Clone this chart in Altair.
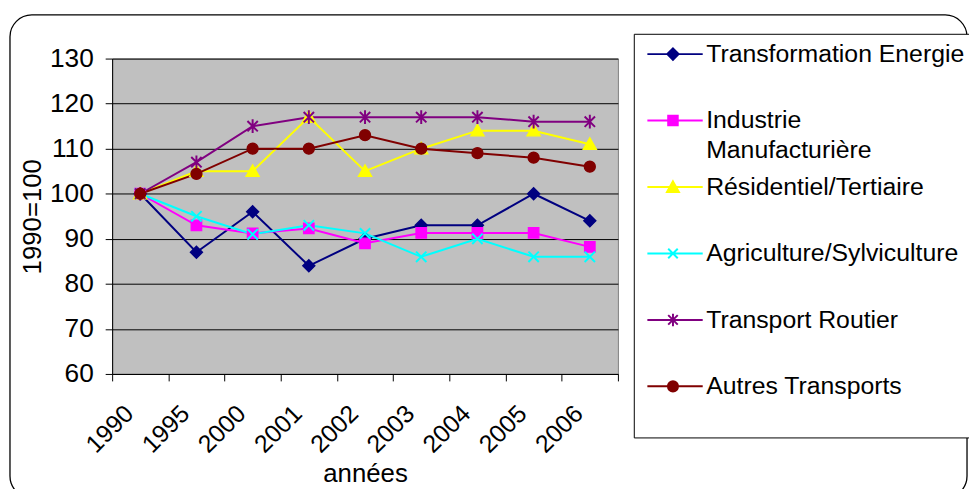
import altair as alt
import pandas as pd

years = ["1990", "1995", "2000", "2001", "2002", "2003", "2004", "2005", "2006"]
series = [
    "Transformation Energie",
    "Industrie Manufacturière",
    "Résidentiel/Tertiaire",
    "Agriculture/Sylviculture",
    "Transport Routier",
    "Autres Transports",
]
transformation = [100, 87, 96, 84, 90, 93, 93, 100, 94]
industrie = [100, 93, 91.2, 92.3, 89, 91.3, 91.3, 91.3, 88.2]
residentiel = [100, 105, 105, 117, 105, 110, 114, 114, 111]
agriculture = [100, 95, 91, 93, 91.2, 86, 90, 86, 86]
routier = [100, 107, 115, 117, 117, 117, 117, 116, 116]
autres = [100, 104.4, 110, 110, 113, 110, 109, 108, 106]
colors = ["#000080", "#FF00FF", "#FFFF00", "#00FFFF", "#800080", "#800000"]

rows = []
for name, vals in zip(series, [transformation, industrie, residentiel, agriculture, routier, autres]):
    for yr, v in zip(years, vals):
        rows.append({"annee": yr, "serie": name, "valeur": v})
df = pd.DataFrame(rows)

FONT = "Liberation Sans"

# marker shapes on the plot (unit paths) and their stroke widths
point_paths = [
    "M0,-1.1L1.1,0L0,1.1L-1.1,0Z",
    "M-0.95,-0.95H0.95V0.95H-0.95Z",
    "M0,-1.15L1.2,0.95H-1.2Z",
    "M-0.95,-0.95L0.95,0.95M-0.95,0.95L0.95,-0.95",
    "M-0.95,-0.95L0.95,0.95M-0.95,0.95L0.95,-0.95M0,-1.25L0,1.25",
    "M-1,0A1,1,0,1,1,1,0A1,1,0,1,1,-1,0Z",
]
point_strokes = [1.4, 1.4, 1.4, 2, 2, 1.4]
# legend symbols: marker with a line through it
L = "M-4.3,0H5"
legend_paths = [
    L + "M0,-0.95L0.95,0L0,0.95L-0.95,0Z",
    L + "M-0.8,-0.8H0.8V0.8H-0.8Z",
    L + "M0,-0.95L1,0.85H-1Z",
    L + "M-0.8,-0.8L0.8,0.8M-0.8,0.8L0.8,-0.8",
    L + "M-0.8,-0.8L0.8,0.8M-0.8,0.8L0.8,-0.8M0,-1.05L0,1.05",
    L + "M-0.85,0A0.85,0.85,0,1,1,0.85,0A0.85,0.85,0,1,1,-0.85,0Z",
]

color_scale = alt.Scale(domain=series, range=colors)

x_enc = alt.X(
    "annee:O",
    sort=years,
    scale=alt.Scale(type="band", paddingInner=0, paddingOuter=0),
    axis=alt.Axis(
        title="années",
        titleX=255,
        titleY=100,
        titleBaseline="middle",
        titleFontSize=26,
        titleFontWeight="normal",
        titleColor="black",
        labelAngle=-45,
        labelAlign="right",
        labelBaseline="top",
        labelPadding=20,
        labelOffset=-20,
        labelFontSize=25,
        labelColor="black",
        tickBand="extent",
        tickSize=7,
        tickColor="black",
        domainColor="black",
        grid=False,
    ),
)
y_enc = alt.Y(
    "valeur:Q",
    scale=alt.Scale(domain=[60, 130], nice=False, zero=False),
    axis=alt.Axis(
        values=list(range(60, 131, 10)),
        title="1990=100",
        titleX=-80,
        titleY=159,
        titleAngle=270,
        titleAlign="center",
        titleBaseline="middle",
        titleFontSize=26,
        titleFontWeight="normal",
        titleColor="black",
        labelFontSize=26.5,
        labelColor="black",
        labelPadding=12,
        tickSize=7,
        tickColor="black",
        domainColor="black",
        grid=True,
        gridColor="black",
        gridOpacity=1,
        gridWidth=1,
    ),
)

frame = alt.Chart(alt.Data(values=[{"k": 1}])).mark_rect(
    fillOpacity=0, stroke="black", strokeWidth=1.3, cornerRadius=22
).encode(
    x=alt.value(-103), x2=alt.value(862), y=alt.value(-44), y2=alt.value(443)
)

base = alt.Chart(df)

line_layers = []
point_layers = []
for s, c, p, sw in zip(series, colors, point_paths, point_strokes):
    sub = base.transform_filter(alt.datum.serie == s)
    line_layers.append(sub.mark_line(strokeWidth=2, color=c).encode(x=x_enc, y=y_enc))
    point_layers.append(
        sub.mark_point(filled=True, shape=p, size=121, strokeWidth=sw, opacity=1, fill=c, stroke=c)
        .encode(x=x_enc, y=y_enc)
    )


def make_legend():
    return alt.Legend(
        title=None,
        orient="none",
        legendX=526,
        legendY=-25,
        strokeColor="black",
        fillColor="white",
        padding=8,
        rowPadding=11,
        symbolSize=144,
        symbolStrokeWidth=2,
        symbolOffset=19,
        symbolOpacity=1,
        labelOffset=21,
        labelFontSize=25,
        labelColor="black",
        labelLimit=600,
        labelBaseline="middle",
        labelExpr="datum.label == 'Industrie Manufacturière' ? ['Industrie', 'Manufacturière'] : [datum.label, '']",
    )


# legend-only layer (no rows drawn; entries come from the scale domains)
legend_layer = base.transform_filter("false").mark_point(filled=True).encode(
    x=x_enc,
    y=y_enc,
    fill=alt.Fill("serie:N", scale=color_scale, legend=make_legend()),
    stroke=alt.Stroke("serie:N", scale=color_scale, legend=make_legend()),
    shape=alt.Shape("serie:N", scale=alt.Scale(domain=series, range=legend_paths), legend=make_legend()),
)

chart = (
    alt.layer(frame, *line_layers, *point_layers, legend_layer)
    .properties(
        width=510,
        height=318,
        autosize=alt.AutoSizeParams(type="none"),
        padding={"left": 105, "top": 49, "right": 354, "bottom": 114},
        background="white",
    )
    .configure(font=FONT, style={"guide-label": {"lineHeight": 30}})
    .configure_view(fill="#C0C0C0", stroke="#808080")
)

chart.save("out.html", embed_options={"renderer": "svg", "actions": False})
